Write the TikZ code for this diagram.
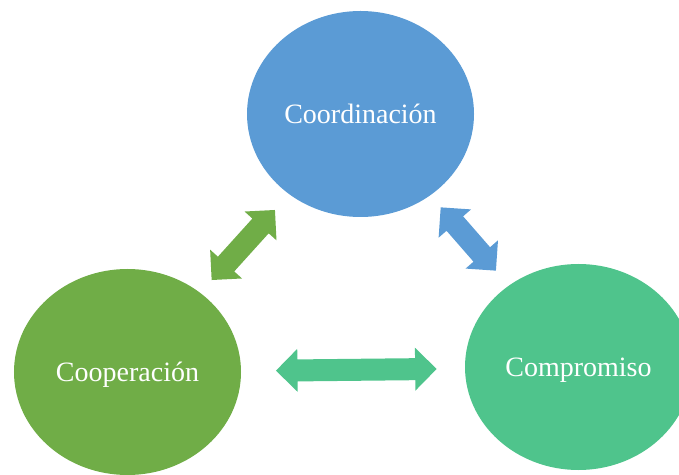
\documentclass[tikz,border=0pt]{standalone}
\usepackage{fontspec}
\setmainfont{Liberation Serif}
\usetikzlibrary{shapes.geometric}
\definecolor{cblue}{RGB}{91,155,213}
\definecolor{cgreen}{RGB}{112,173,71}
\definecolor{cteal}{RGB}{79,196,140}
\tikzset{
  bubble/.style={ellipse, fill=#1, draw=none, inner sep=0pt,
    minimum width=227bp, minimum height=206bp, text=white,
    text height=19bp, text depth=0bp,
    font=\fontsize{28bp}{34bp}\selectfont},
  pics/dblarrow/.style 2 args={code={
    \fill[#2] (-#1/2,0) -- (-#1/2+21.5,21.5) -- (-#1/2+21.5,11) -- (#1/2-21.5,11)
      -- (#1/2-21.5,21.5) -- (#1/2,0) -- (#1/2-21.5,-21.5) -- (#1/2-21.5,-11)
      -- (-#1/2+21.5,-11) -- (-#1/2+21.5,-21.5) -- cycle;
  }}
}
\begin{document}
\begin{tikzpicture}[x=1bp,y=-1bp]
\useasboundingbox (0,0) rectangle (679,475);
\clip (0,0) rectangle (679,475);
\node[bubble=cblue] (coord) at (360.5,114) {Coordinación};
\node[bubble=cgreen] (coop) at (127.5,372) {Cooperación};
\node[bubble=cteal] (comp) at (578.5,367) {Compromiso};
\pic[rotate=47.9] (agreen) at (243.3,245) {dblarrow={94.4}{cgreen}};
\pic[rotate=-48.9] (ablue) at (468.3,239) {dblarrow={84}{cblue}};
\pic[rotate=0.6] (ateal) at (356.3,369.8) {dblarrow={160.7}{cteal}};
\end{tikzpicture}
\end{document}
